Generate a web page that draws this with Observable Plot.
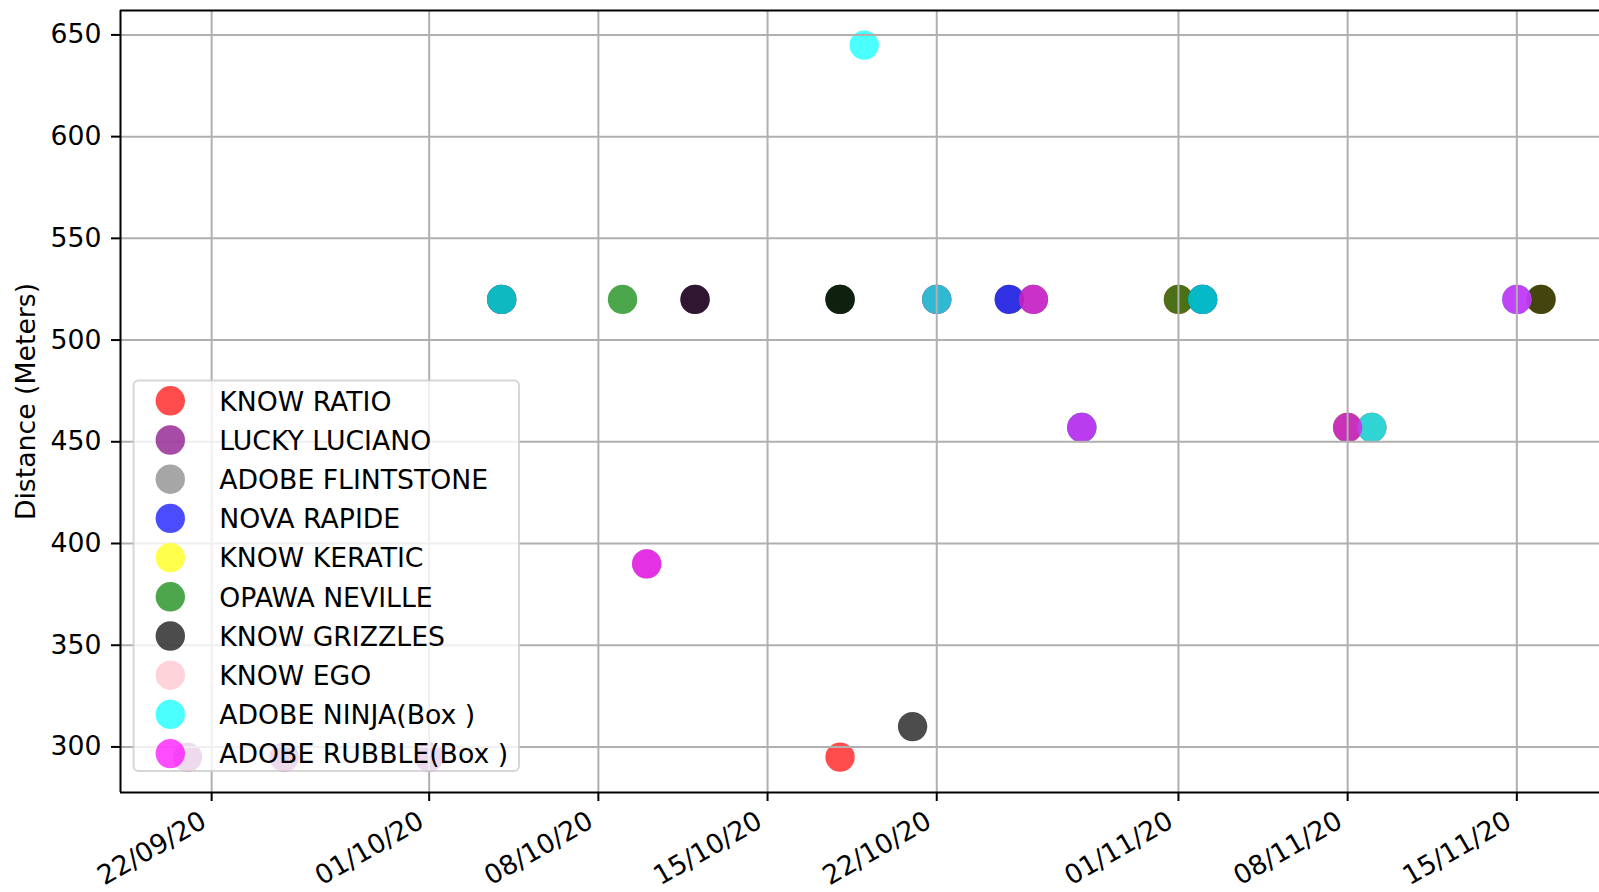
<!DOCTYPE html>
<html><head><meta charset="utf-8">
<script src="https://cdn.jsdelivr.net/npm/d3@7"></script>
<script src="https://cdn.jsdelivr.net/npm/@observablehq/plot@0.6"></script>
<style>html,body{margin:0;padding:0;background:#fff;overflow:hidden}</style>
</head><body><div id="chart"></div>
<script>
// ---- data ----
const horses = ["KNOW RATIO","LUCKY LUCIANO","ADOBE FLINTSTONE","NOVA RAPIDE","KNOW KERATIC","OPAWA NEVILLE","KNOW GRIZZLES","KNOW EGO","ADOBE NINJA(Box )","ADOBE RUBBLE(Box )"];
const horseColors = ["#ff0000","#800080","#808080","#0000ff","#ffff00","#008000","#000000","#ffc0cb","#00ffff","#ff00ff"];

const knowRatioDates = ["2020-10-18","2020-10-22","2020-11-01","2020-11-09"];
const knowRatioDist = [295,520,520,457];
const luckyLucianoDates = ["2020-09-21","2020-09-25","2020-10-01","2020-10-04","2020-10-12","2020-10-18","2020-10-22"];
const luckyLucianoDist = [295,295,295,520,520,520,520];
const adobeFlintstoneDates = ["2020-10-10","2020-10-25","2020-11-09","2020-11-15","2020-11-16"];
const adobeFlintstoneDist = [390,520,457,520,520];
const novaRapideDates = ["2020-10-25","2020-11-02"];
const novaRapideDist = [520,520];
const knowKeraticDates = ["2020-11-08","2020-11-16"];
const knowKeraticDist = [457,520];
const opawaNevilleDates = ["2020-10-09","2020-10-18","2020-10-26","2020-11-01","2020-11-08"];
const opawaNevilleDist = [520,520,520,520,457];
const knowGrizzlesDates = ["2020-10-04","2020-10-12","2020-10-18","2020-10-21","2020-10-28","2020-11-02","2020-11-16"];
const knowGrizzlesDist = [520,520,520,310,457,520,520];
const knowEgoDates = [];
const knowEgoDist = [];
const adobeNinjaDates = ["2020-10-04","2020-10-19","2020-10-22","2020-10-28","2020-11-02","2020-11-09","2020-11-15"];
const adobeNinjaDist = [520,645,520,457,520,457,520];
const adobeRubbleDates = ["2020-10-10","2020-10-26","2020-10-28","2020-11-08","2020-11-15"];
const adobeRubbleDist = [390,520,457,457,520];

const xTickLabels = ["22/09/20","01/10/20","08/10/20","15/10/20","22/10/20","01/11/20","08/11/20","15/11/20"];
const xTickDates = ["2020-09-22","2020-10-01","2020-10-08","2020-10-15","2020-10-22","2020-11-01","2020-11-08","2020-11-15"];
const yTicks = [300,350,400,450,500,550,600,650];
const yLabel = "Distance (Meters)";

// ---- build table ----
const seriesDates = [knowRatioDates,luckyLucianoDates,adobeFlintstoneDates,novaRapideDates,knowKeraticDates,opawaNevilleDates,knowGrizzlesDates,knowEgoDates,adobeNinjaDates,adobeRubbleDates];
const seriesDist = [knowRatioDist,luckyLucianoDist,adobeFlintstoneDist,novaRapideDist,knowKeraticDist,opawaNevilleDist,knowGrizzlesDist,knowEgoDist,adobeNinjaDist,adobeRubbleDist];
const races = [];
horses.forEach((h, i) => seriesDates[i].forEach((d, j) => races.push({horse: h, date: new Date(d), distance: seriesDist[i][j]})));
const tickDates = xTickDates.map(d => new Date(d));

const xDomain = [new Date(Date.UTC(2020, 8, 18, 5, 30)), new Date(Date.UTC(2020, 10, 18, 10, 5))];
const yDomain = [277.6, 662];
const gridStyle = {stroke: "#b0b0b0", strokeOpacity: 1, strokeWidth: 2};

const svg = Plot.plot({
  width: 1599, height: 892,
  marginLeft: 120, marginRight: 0, marginTop: 10, marginBottom: 100,
  style: {fontFamily: "DejaVu Sans", fontSize: "26.7px", background: "white", color: "black"},
  x: {type: "utc", domain: xDomain},
  y: {domain: yDomain},
  color: {domain: horses, range: horseColors},
  marks: [
    Plot.dot(races, {x: "date", y: "distance", fill: "horse", fillOpacity: 0.7, r: 14.7}),
    Plot.gridX(tickDates, gridStyle),
    Plot.gridY(yTicks, gridStyle),
    Plot.ruleX([xDomain[0]], {stroke: "black", strokeWidth: 2}),
    Plot.ruleY(yDomain, {stroke: "black", strokeWidth: 2}),
    Plot.axisX({ticks: tickDates, tickSize: 9, strokeWidth: 2, tickFormat: () => "", label: null}),
    Plot.text(tickDates, {x: d => d, text: (d, i) => xTickLabels[i], frameAnchor: "bottom", rotate: -30, textAnchor: "end", lineAnchor: "top", dx: -13, dy: 17, fill: "black"}),
    Plot.axisY({ticks: yTicks, tickSize: 9, tickPadding: 10, strokeWidth: 2, label: null, fill: "black"}),
    Plot.text([yLabel], {text: d => d, frameAnchor: "left", rotate: -90, dx: -94.5, lineAnchor: "middle", textAnchor: "middle", fill: "black"})
  ]
});

// legend inside the plot area
const g = d3.select(svg).append("g").attr("font-family", "DejaVu Sans").attr("font-size", 26.7).attr("text-anchor", "start");
g.append("rect").attr("x", 133.6).attr("y", 380.4).attr("width", 385.4).attr("height", 390.6).attr("rx", 5)
  .attr("fill", "white").attr("fill-opacity", 0.8).attr("stroke", "#cccccc").attr("stroke-opacity", 0.8).attr("stroke-width", 2);
horses.forEach((h, i) => {
  const cy = 400.8 + i * 39.2;
  g.append("circle").attr("cx", 170.3).attr("cy", cy).attr("r", 14.7).attr("fill", horseColors[i]).attr("fill-opacity", 0.7);
  g.append("text").attr("x", 219.3).attr("y", cy + 9.7).attr("fill", "black").attr("text-anchor", "start").text(h);
});

document.getElementById("chart").appendChild(svg);
</script>
</body></html>
